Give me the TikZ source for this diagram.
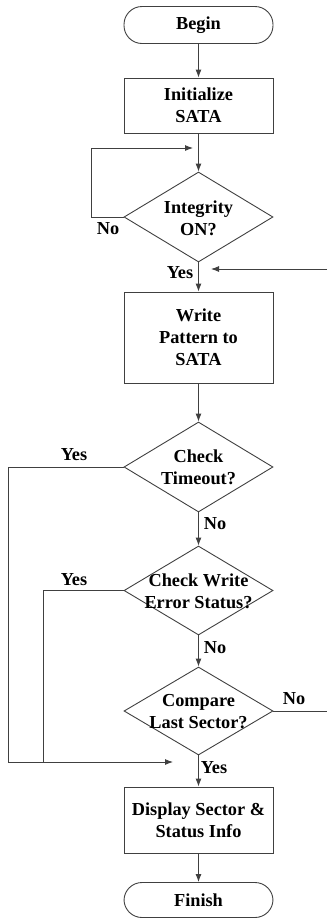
\documentclass[tikz,border=0pt]{standalone}
\usepackage{fontspec}
\setmainfont{Liberation Serif}
\usetikzlibrary{shapes.geometric,arrows.meta}
\begin{document}
\begin{tikzpicture}[x=1pt,y=-1pt,
  every node/.style={font=\fontsize{18.3}{22}\selectfont\bfseries, text=black},
  ln/.style={draw=black!75, line width=0.9pt},
  arr/.style={ln, -{Latex[length=8pt,width=6pt]}},
  term/.style={ln, rectangle, rounded corners=18pt, minimum width=149pt, minimum height=37pt, inner sep=0pt},
  proc/.style={ln, rectangle, minimum width=149pt, inner sep=0pt, align=center},
  dia/.style={ln, diamond, minimum width=149pt, inner sep=0pt, aspect=1.65},
  dtext/.style={align=center, inner sep=0pt},
  lbl/.style={inner sep=0pt}
]
\useasboundingbox (0,0) rectangle (327,919);
\node[term] (begin) at (198.5,25) {Begin};
\node[proc, minimum height=55pt] (init) at (198.5,105.5) {Initialize\\SATA};
\node[dia, minimum height=90pt] (integ) at (198.5,217) {};
\node[dtext] (integt) at (198.5,218) {Integrity\\ON?};
\node[proc, minimum height=91pt] (write) at (198.5,337.5) {Write\\Pattern to\\SATA};
\node[dia, minimum height=90pt] (tout) at (198.5,467) {};
\node[dtext] (toutt) at (198.5,467) {Check\\Timeout?};
\node[dia, minimum height=89pt] (werr) at (198.5,590.5) {};
\node[dtext] (werrt) at (198.5,591) {Check Write\\Error Status?};
\node[dia, minimum height=88pt] (comp) at (198.5,711) {};
\node[dtext] (compt) at (198.5,712) {Compare\\Last Sector?};
\node[proc, minimum height=66pt] (disp) at (198.5,820) {Display Sector \&\\Status Info};
\node[term, minimum height=35pt] (finish) at (198.5,900) {Finish};

\coordinate (fbtip) at (193,148);
\coordinate (intip) at (211,269);
\coordinate (instart) at (327,269);
\coordinate (jtip) at (173,762);
\coordinate (cend) at (327,711);

\draw[arr] (begin) -- (init);
\draw[arr] (init) -- (integ.north);
\draw[arr] (integ.west) -| (91,148) -- (fbtip);
\draw[arr] (integ.south) -- (write);
\draw[arr] (instart) -- (intip);
\draw[arr] (write) -- (tout.north);
\draw[arr] (tout.west) -| (8,762) -- (jtip);
\draw[arr] (tout.south) -- (werr.north);
\draw[ln] (werr.west) -| (43,762);
\draw[arr] (werr.south) -- (comp.north);
\draw[ln] (comp.east) -- (cend);
\draw[arr] (comp.south) -- (disp);
\draw[arr] (disp) -- (finish);

\node[lbl] (lno1) at (108,229) {No};
\node[lbl] (lyes1) at (180,273) {Yes};
\node[lbl] (lyes2) at (74,455) {Yes};
\node[lbl] (lno2) at (215,524) {No};
\node[lbl] (lyes3) at (74,580) {Yes};
\node[lbl] (lno3) at (215,648) {No};
\node[lbl] (lno4) at (294,699) {No};
\node[lbl] (lyes4) at (214,768) {Yes};
\end{tikzpicture}
\end{document}
